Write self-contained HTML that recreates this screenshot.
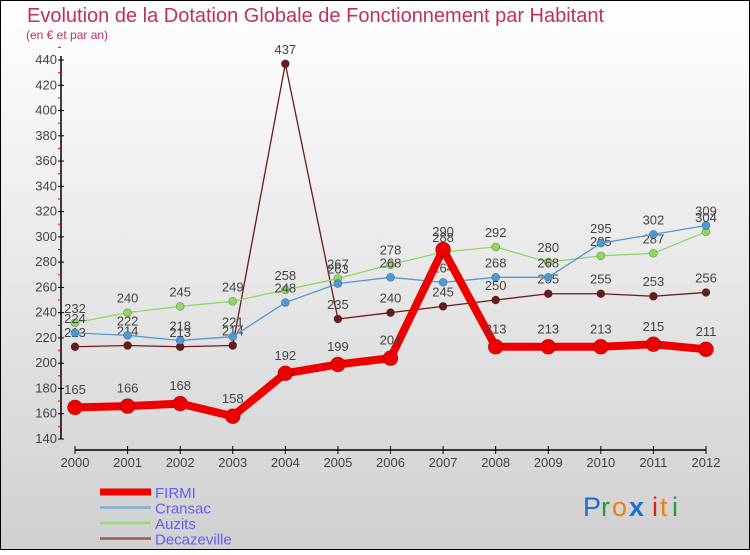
<!DOCTYPE html>
<html><head><meta charset="utf-8"><style>
html,body{margin:0;padding:0}
body{width:750px;height:550px;overflow:hidden;font-family:"Liberation Sans",sans-serif}
svg text{font-family:"Liberation Sans",sans-serif}
</style></head><body>
<svg id="chart" width="750" height="550" viewBox="0 0 750 550">
<defs>
<linearGradient id="bg" x1="0" y1="0" x2="0" y2="1">
<stop offset="0" stop-color="#ffffff"/><stop offset="1" stop-color="#d0d0d0"/>
</linearGradient>
</defs>
<rect x="0.5" y="0.5" width="749" height="549" fill="url(#bg)" stroke="#000"/>
<text x="27" y="22" font-size="20" fill="#c0305a">Evolution de la Dotation Globale de Fonctionnement par Habitant</text>
<text x="26" y="39" font-size="12" fill="#c0305a">(en € et par an)</text>
<g id="axes"></g>
<g id="series"></g>
<g id="legend"></g>
<g font-size="27">
<text x="583" y="516" fill="#1a6fd0">P</text><text x="601" y="516" fill="#2a9a3a">r</text><text x="612" y="516" fill="#f08010">o</text><text x="629" y="516" fill="#1a6fd0" font-weight="bold">x</text><text x="652" y="516" fill="#e02010">i</text><text x="660" y="516" fill="#f08010">t</text><text x="672" y="516" fill="#2a9a3a">i</text>
</g>
</svg>
<script>
const years=[2000,2001,2002,2003,2004,2005,2006,2007,2008,2009,2010,2011,2012];
const firmi=[165,166,168,158,192,199,204,290,213,213,213,215,211];
const cransac=[224,222,218,221,248,263,268,264,268,268,295,302,309];
const auzits=[232,240,245,249,258,267,278,288,292,280,285,287,304];
const decazeville=[213,214,213,214,437,235,240,245,250,255,255,253,256];
const yTicks=[140,160,180,200,220,240,260,280,300,320,340,360,380,400,420,440];
const seriesNames=["FIRMI","Cransac","Auzits","Decazeville"];

const NS="http://www.w3.org/2000/svg";
const x=i=>75+i*(706-75)/(years.length-1);
const y=v=>439-(v-140)*(379/300);
function mk(parent,tag,attrs){const e=document.createElementNS(NS,tag);for(const k in attrs)e.setAttribute(k,attrs[k]);parent.appendChild(e);return e;}
const axes=document.getElementById('axes');
let a=mk(axes,'line',{x1:61,y1:y(440)-4,x2:61,y2:y(140),stroke:'#000','stroke-width':1.5});


yTicks.forEach(v=>{
  mk(axes,'line',{x1:58,y1:y(v),x2:64,y2:y(v),stroke:'#000'});
  mk(axes,'line',{x1:58,y1:y(v+10),x2:61,y2:y(v+10),stroke:'#e00'});
  const t=mk(axes,'text',{x:57,y:y(v)+4,'font-size':13,'text-anchor':'end',fill:'#444'});
  t.textContent=v;
  
  
});
a=mk(axes,'line',{x1:x(0),y1:450,x2:x(12),y2:450,stroke:'#000','stroke-width':1.5});


years.forEach((yr,i)=>{
  mk(axes,'line',{x1:x(i),y1:446,x2:x(i),y2:454,stroke:'#000'});
  const t=mk(axes,'text',{x:x(i),y:467,'font-size':13,'text-anchor':'middle',fill:'#444'});
  t.textContent=yr;
  
  
});
const sg=document.getElementById('series');
function drawSeries(data,color,lw,r,name){
  const g=mk(sg,'g',{});
  
  
  const pts=data.map((v,i)=>x(i)+','+y(v)).join(' ');
  mk(g,'polyline',{points:pts,fill:'none',stroke:color,'stroke-width':lw,'stroke-linejoin':'round'});
  data.forEach((v,i)=>{
    const c=mk(g,'circle',{cx:x(i),cy:y(v),r:r,fill:color,stroke:'rgba(0,0,0,0.3)','stroke-width':0.7});
    
    
    const t=mk(g,'text',{x:x(i),y:y(v)-(r+6),'font-size':13,'text-anchor':'middle',fill:'#444'});
    t.textContent=v;
    
    
  });
}
drawSeries(decazeville,'#6b1a1a',1.3,4,'decazeville');
drawSeries(auzits,'#8fd860',1.3,4,'auzits');
drawSeries(cransac,'#4d9ad6',1.3,4,'cransac');
drawSeries(firmi,'#ee0000',8,7.5,'firmi');
const lg=document.getElementById('legend');
const lcol=['#ee0000','#7fb0d4','#9ad87a','#9a5a5a'];
const lw=[7,2.5,2.5,2.5];
seriesNames.forEach((n,i)=>{
  const ly=492+i*15.5;
  const l=mk(lg,'line',{x1:100,y1:ly,x2:151,y2:ly,stroke:lcol[i],'stroke-width':lw[i]});
  
  
  const t=mk(lg,'text',{x:155,y:ly+6,'font-size':15,fill:'#6060f0'});
  t.textContent=n;
  
  
});
</script>
</body></html>
